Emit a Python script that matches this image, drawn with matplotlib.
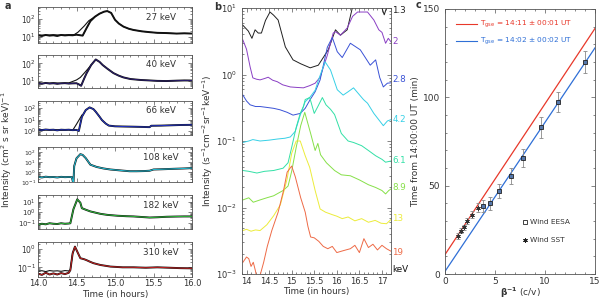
import numpy as np
import matplotlib
matplotlib.use("Agg")
import matplotlib.pyplot as plt
from matplotlib.ticker import MultipleLocator, LogLocator, NullFormatter, FixedLocator

plt.rcParams['font.family'] = ['DejaVu Sans']
plt.rcParams['mathtext.fontset'] = 'dejavusans'

# ---------------- Panel a data ----------------
a_energies = ['27 keV', '40 keV', '66 keV', '108 keV', '182 keV', '310 keV']
a_colors = ['#111111', '#2a1d6e', '#2233c8', '#22c0d8', '#2eb83a', '#c42020']
a_ylims = [(10**0.66, 10**2.66), (10**0.59, 10**2.47), (10**-0.35, 10**2.67),
           (10**-1.05, 10**2.52), (10**-1.56, 10**1.62), (10**-1.52, 10**0.42)]
a_yticks = [[1e1, 1e2], [1e1, 1e2], [1e0, 1e1, 1e2], [1e-1, 1e0, 1e1, 1e2],
            [1e-1, 1e0, 1e1], [1e-1, 1e0]]

t27 = [14.0, 14.05, 14.1, 14.15, 14.2, 14.25, 14.3, 14.35, 14.4, 14.45, 14.5, 14.55, 14.58, 14.63, 14.68, 14.74, 14.8, 14.86, 14.9, 14.95, 15.0, 15.05, 15.11, 15.18, 15.24, 15.35, 15.45, 15.55, 15.67, 15.8, 15.9, 16.0]
v27 = [12, 11, 12.5, 11.5, 12, 11, 12.5, 11.8, 12.3, 12, 13, 12, 11.5, 30, 75, 135, 200, 260, 280, 220, 90, 55, 37, 28, 24, 20, 18, 16.5, 16, 15, 15.5, 15]
t27b = [14.0, 14.1, 14.2, 14.3, 14.4, 14.47, 14.52, 14.6, 14.66, 14.74]
v27b = [12.5, 12, 12.8, 12.2, 12.6, 13, 18, 40, 80, 135]

t40 = [14.0, 14.05, 14.1, 14.15, 14.2, 14.25, 14.3, 14.35, 14.4, 14.45, 14.5, 14.53, 14.56, 14.6, 14.63, 14.69, 14.75, 14.8, 14.84, 14.9, 14.98, 15.05, 15.11, 15.2, 15.33, 15.45, 15.55, 15.67, 15.8, 15.9, 16.0]
v40 = [7.5, 7.0, 7.8, 7.2, 7.5, 7.0, 7.4, 7.6, 7.2, 7.4, 7.5, 6.5, 5.4, 14, 27, 80, 165, 120, 80, 50, 28, 20, 16, 13, 11.5, 10.8, 10.2, 10, 10.5, 10.8, 10.7]
t40b = [14.0, 14.1, 14.2, 14.3, 14.4, 14.5, 14.55, 14.62, 14.69]
v40b = [7.8, 7.4, 7.9, 7.5, 7.8, 11.5, 16, 35, 80]

t66 = [14.0, 14.05, 14.1, 14.15, 14.2, 14.25, 14.3, 14.35, 14.4, 14.45, 14.5, 14.53, 14.57, 14.62, 14.67, 14.72, 14.75, 14.8, 14.83, 14.88, 14.92, 15.0, 15.1, 15.24, 15.35, 15.45, 15.47, 15.6, 15.73, 15.85, 16.0]
v66 = [1.3, 1.2, 1.35, 1.25, 1.3, 1.15, 1.3, 1.25, 1.3, 1.2, 1.25, 1.0, 18, 70, 120, 85, 50, 18, 9.3, 4.5, 3.0, 2.6, 2.5, 2.4, 2.3, 2.2, 2.9, 3.0, 3.2, 3.4, 3.5]
t66b = [14.0, 14.1, 14.2, 14.3, 14.4, 14.45, 14.5, 14.57]
v66b = [1.3, 1.25, 1.3, 1.2, 1.3, 1.15, 4.0, 25]

t108 = [14.0, 14.05, 14.1, 14.15, 14.2, 14.25, 14.3, 14.35, 14.4, 14.44, 14.46, 14.47, 14.5, 14.55, 14.58, 14.62, 14.68, 14.76, 14.85, 14.94, 15.05, 15.19, 15.28, 15.38, 15.45, 15.5, 15.6, 15.75, 15.9, 16.0]
v108 = [0.32, 0.28, 0.33, 0.3, 0.31, 0.28, 0.32, 0.3, 0.31, 0.3, 0.06, 4.0, 25, 66, 55, 26, 5.6, 3.3, 2.3, 1.8, 1.5, 1.2, 1.2, 1.25, 1.35, 1.8, 1.9, 2.1, 2.3, 2.5]

t182 = [14.0, 14.05, 14.1, 14.15, 14.2, 14.25, 14.3, 14.35, 14.4, 14.42, 14.46, 14.51, 14.55, 14.57, 14.62, 14.68, 14.75, 14.81, 14.9, 15.03, 15.15, 15.24, 15.35, 15.45, 15.55, 15.67, 15.8, 15.9, 16.0]
v182 = [0.07, 0.09, 0.08, 0.1, 0.09, 0.085, 0.1, 0.09, 0.095, 0.1, 2.0, 16.5, 8.0, 2.5, 1.8, 1.25, 0.95, 0.75, 0.6, 0.5, 0.45, 0.43, 0.38, 0.34, 0.36, 0.4, 0.42, 0.43, 0.43]

t310 = [14.0, 14.05, 14.1, 14.15, 14.2, 14.25, 14.3, 14.35, 14.4, 14.42, 14.45, 14.48, 14.52, 14.55, 14.6, 14.63, 14.68, 14.72, 14.81, 14.94, 15.1, 15.24, 15.4, 15.55, 15.7, 15.85, 16.0]
v310 = [0.045, 0.038, 0.05, 0.04, 0.046, 0.04, 0.048, 0.042, 0.05, 0.07, 0.6, 1.4, 0.6, 0.32, 0.28, 0.25, 0.2, 0.17, 0.135, 0.11, 0.1, 0.1, 0.095, 0.1, 0.095, 0.09, 0.088]
t310k = [14.0, 14.05, 14.1, 14.15, 14.2, 14.25, 14.3, 14.35, 14.4, 14.42, 14.45, 14.48]
v310k = [0.06, 0.065, 0.058, 0.066, 0.062, 0.064, 0.06, 0.066, 0.063, 0.075, 0.6, 1.3]

a_series = [(t27, v27), (t40, v40), (t66, v66), (t108, v108), (t182, v182), (t310, v310)]
a_dash = [(t27b, v27b), (t40b, v40b), (t66b, v66b), None, None, (t310k, v310k)]

# ---------------- Panel b data ----------------
b_labels = ['1.3', '2', '2.8', '4.2', '6.1', '8.9', '13', '19']
b_colors = ['#202020', '#8a3fc4', '#3a52d6', '#36d0e6', '#32e0a6', '#86e048', '#ecec3a', '#ee6a46']
b_label_vals = [9.3, 3.1, 0.83, 0.21, 0.051, 0.020, 0.0069, 0.0021]

tb0 = [13.92, 14.04, 14.12, 14.19, 14.26, 14.33, 14.42, 14.52, 14.6, 14.7, 14.86, 15.03, 15.2, 15.41, 15.59, 15.7, 15.81, 15.97, 16.08, 16.23, 16.35, 16.6, 16.9, 17.0, 17.05, 17.12, 17.2]
vb0 = [5.5, 4.5, 3.5, 4.7, 4.2, 4.2, 6.5, 8.7, 7.8, 6.6, 2.6, 1.66, 1.45, 1.26, 1.38, 1.8, 2.35, 4.7, 3.9, 4.7, 10.5, 14, 13, 10, 7.9, 11, 14]
tb1 = [13.92, 14.0, 14.08, 14.14, 14.22, 14.3, 14.4, 14.48, 14.58, 14.68, 14.8, 14.97, 15.1, 15.26, 15.4, 15.52, 15.63, 15.79, 15.92, 15.97, 16.08, 16.23, 16.35, 16.46, 16.68, 16.82, 16.93, 17.0, 17.08, 17.14, 17.2]
vb1 = [3.3, 2.4, 1.3, 0.89, 0.85, 0.83, 0.87, 0.91, 0.82, 0.78, 0.7, 0.65, 0.64, 0.63, 0.68, 0.74, 0.91, 1.95, 4.2, 4.4, 3.9, 5.0, 7.5, 8.7, 8.7, 6.6, 4.7, 4.3, 2.95, 3.5, 3.1]
tb2 = [13.92, 14.0, 14.08, 14.2, 14.3, 14.45, 14.6, 14.74, 14.9, 15.03, 15.19, 15.3, 15.41, 15.52, 15.63, 15.79, 15.9, 16.01, 16.12, 16.3, 16.52, 16.74, 16.86, 16.95, 17.03, 17.12, 17.2]
vb2 = [0.49, 0.4, 0.35, 0.33, 0.33, 0.32, 0.31, 0.295, 0.27, 0.245, 0.26, 0.31, 0.42, 0.55, 0.83, 2.57, 3.6, 2.2, 1.8, 2.95, 2.35, 1.38, 1.66, 0.9, 0.65, 0.74, 0.75]
tb3 = [13.92, 14.05, 14.14, 14.3, 14.5, 14.68, 14.85, 14.97, 15.08, 15.19, 15.3, 15.41, 15.52, 15.6, 15.74, 15.86, 16.01, 16.14, 16.25, 16.37, 16.59, 16.68, 16.82, 16.95, 17.03, 17.12, 17.2]
vb3 = [0.095, 0.1, 0.105, 0.1, 0.103, 0.107, 0.11, 0.115, 0.14, 0.245, 0.39, 0.46, 0.58, 0.85, 1.55, 1.17, 0.59, 0.49, 0.55, 0.63, 0.42, 0.37, 0.26, 0.2, 0.17, 0.2, 0.21]
tb4 = [13.92, 14.05, 14.23, 14.4, 14.6, 14.81, 14.92, 15.0, 15.1, 15.19, 15.26, 15.3, 15.4, 15.5, 15.58, 15.68, 15.76, 15.86, 15.95, 16.1, 16.25, 16.37, 16.55, 16.7, 16.86, 17.0, 17.08, 17.2]
vb4 = [0.036, 0.035, 0.033, 0.035, 0.036, 0.039, 0.047, 0.08, 0.16, 0.26, 0.33, 0.42, 0.45, 0.26, 0.33, 0.45, 0.35, 0.3, 0.25, 0.13, 0.1, 0.095, 0.085, 0.072, 0.06, 0.053, 0.048, 0.05]
tb5 = [13.92, 14.05, 14.15, 14.3, 14.45, 14.6, 14.81, 14.92, 15.0, 15.1, 15.2, 15.29, 15.42, 15.52, 15.58, 15.64, 15.77, 15.95, 16.1, 16.3, 16.5, 16.7, 16.86, 17.0, 17.08, 17.15, 17.2]
vb5 = [0.013, 0.014, 0.012, 0.013, 0.014, 0.015, 0.018, 0.021, 0.035, 0.08, 0.17, 0.27, 0.13, 0.072, 0.092, 0.062, 0.047, 0.036, 0.031, 0.03, 0.026, 0.022, 0.02, 0.018, 0.016, 0.018, 0.019]
tb6 = [13.92, 14.0, 14.1, 14.2, 14.3, 14.45, 14.6, 14.75, 14.9, 15.0, 15.1, 15.19, 15.3, 15.4, 15.52, 15.63, 15.75, 15.9, 16.0, 16.12, 16.25, 16.4, 16.55, 16.7, 16.85, 16.98, 17.1, 17.2]
vb6 = [0.0045, 0.0047, 0.0044, 0.0046, 0.0045, 0.0055, 0.0075, 0.011, 0.027, 0.065, 0.1, 0.1, 0.06, 0.04, 0.018, 0.0095, 0.0085, 0.0078, 0.0074, 0.0068, 0.0072, 0.0063, 0.0068, 0.006, 0.0064, 0.0058, 0.0057, 0.0066]
tb7 = [13.92, 14.0, 14.05, 14.1, 14.15, 14.2, 14.25, 14.3, 14.38, 14.46, 14.56, 14.7, 14.82, 14.9, 15.0, 15.08, 15.2, 15.3, 15.36, 15.42, 15.5, 15.6, 15.7, 15.8, 15.9, 16.0, 16.1, 16.2, 16.3, 16.4, 16.5, 16.6, 16.7, 16.8, 16.9, 17.0, 17.1, 17.2]
vb7 = [0.0015, 0.0018, 0.0017, 0.0013, 0.0015, 0.0011, 0.0007, 0.00095, 0.0015, 0.0026, 0.0045, 0.0085, 0.018, 0.034, 0.042, 0.029, 0.014, 0.0085, 0.0052, 0.0036, 0.0035, 0.0031, 0.0026, 0.0024, 0.0026, 0.0021, 0.0022, 0.0023, 0.0024, 0.0027, 0.0021, 0.0034, 0.0025, 0.0028, 0.0023, 0.0027, 0.0024, 0.0022]
b_series = [(tb0, vb0), (tb1, vb1), (tb2, vb2), (tb3, vb3), (tb4, vb4), (tb5, vb5), (tb6, vb6), (tb7, vb7)]

# ---------------- Panel c data ----------------
c_fit_x = [0, 15]
c_fit_red = [11.0, 139.0]
c_fit_blue = [1.5, 128.0]
eesa_x = [3.8, 4.5, 5.4, 6.6, 7.8, 9.6, 11.3, 14.0]
eesa_t = [38.5, 40.0, 47.0, 55.5, 65.5, 83.0, 97.3, 120.0]
eesa_err = [3.5, 3.5, 4.0, 4.5, 5.0, 6.0, 5.5, 6.0]
sst_x = [1.3, 1.6, 1.9, 2.2, 2.7, 3.3]
sst_t = [21.5, 24.5, 26.5, 30.0, 33.5, 37.5]
sst_err = [1.5, 1.5, 1.5, 1.5, 2.0, 2.5]
legend_red = 'T$_{\\rm gse}$ = 14:11 \u00b1 00:01 UT'
legend_blue = 'T$_{\\rm gse}$ = 14:02 \u00b1 00:02 UT'

# ---------------- Figure ----------------
W, H = 600, 300
fig = plt.figure(figsize=(6, 3), dpi=100)

def px_axes(x0, y0, x1, y1):
    return fig.add_axes([x0 / W, 1 - y1 / H, (x1 - x0) / W, (y1 - y0) / H])

TXT = '#333333'
FS = 6

def style_ax(ax):
    ax.tick_params(which='both', direction='in', top=True, right=True,
                   labelsize=FS, colors='#555555', labelcolor=TXT, width=0.5)
    ax.tick_params(which='major', length=3)
    ax.tick_params(which='minor', length=1.5)
    for s in ax.spines.values():
        s.set_linewidth(0.6)
        s.set_color('#555555')

a_boxes = [(7.3, 42.7), (55, 88.3), (100.7, 135), (147.3, 182.3), (195, 229.3), (241.7, 276.7)]
a_ytick_fs = [5.5, 5.5, 4.8, 4.3, 5.0, 5.5]
for i, (y0, y1) in enumerate(a_boxes):
    ax = px_axes(38, y0, 192, y1)
    t, v = a_series[i]
    if a_dash[i] is not None:
        td, vd = a_dash[i]
        ax.plot(td, vd, color='#111111', lw=0.8)
    ax.plot(t, v, color='#111111', lw=1.4)
    ax.plot(t, v, color=a_colors[i], lw=0.7)
    ax.set_yscale('log')
    ax.set_xlim(14.0, 16.0)
    ax.set_ylim(*a_ylims[i])
    ax.yaxis.set_major_locator(FixedLocator(a_yticks[i]))
    ax.yaxis.set_minor_locator(LogLocator(base=10, subs=np.arange(2, 10), numticks=20))
    ax.yaxis.set_minor_formatter(NullFormatter())
    ax.xaxis.set_major_locator(MultipleLocator(0.5))
    ax.xaxis.set_minor_locator(MultipleLocator(0.1))
    style_ax(ax)
    ax.tick_params(axis='y', labelsize=a_ytick_fs[i], pad=1.5)
    if i < 5:
        ax.tick_params(labelbottom=False)
    else:
        ax.set_xticks([14.0, 14.5, 15.0, 15.5, 16.0])
        ax.set_xticklabels(['14.0', '14.5', '15.0', '15.5', '16.0'])
        ax.tick_params(axis='x', pad=2)
        ax.set_xlabel('Time (in hours)', fontsize=6.3, color=TXT, labelpad=1)
    ax.text(0.80, 0.70, a_energies[i], transform=ax.transAxes, fontsize=6.3,
            color=TXT, ha='center', va='center')

fig.text(7 / W, 1 - 150 / H, 'Intensity (cm$^2$ s sr keV)$^{-1}$', rotation=90,
         fontsize=6.5, color=TXT, ha='center', va='center')
fig.text(8 / W, 1 - 6 / H, 'a', fontsize=7, fontweight='bold', color=TXT, ha='center', va='center')

# Panel b
axb = px_axes(242, 8, 391, 274)
for (t, v), c in zip(b_series, b_colors):
    axb.plot(t, v, color=c, lw=0.7)
axb.set_yscale('log')
axb.set_xlim(13.9, 17.2)
axb.set_ylim(1e-3, 1e1)
axb.yaxis.set_major_locator(LogLocator(base=10, numticks=10))
axb.yaxis.set_minor_locator(LogLocator(base=10, subs=np.arange(2, 10), numticks=20))
axb.yaxis.set_minor_formatter(NullFormatter())
axb.xaxis.set_major_locator(MultipleLocator(0.5))
axb.xaxis.set_minor_locator(MultipleLocator(0.1))
style_ax(axb)
axb.set_xticks([14, 14.5, 15, 15.5, 16, 16.5, 17])
axb.set_xticklabels(['14', '14.5', '15', '15.5', '16', '16.5', '17'])
axb.tick_params(axis='x', pad=2)
axb.set_xlabel('Time (in hours)', fontsize=6.3, color=TXT, labelpad=1)
axb.set_ylabel('Intensity (s$^{-1}$cm$^{-2}$sr$^{-1}$keV$^{-1}$)', fontsize=6.5, color=TXT, labelpad=1)
for lab, val, c in zip(b_labels, b_label_vals, b_colors):
    axb.annotate(lab, xy=(1.0, val), xycoords=('axes fraction', 'data'),
                 xytext=(1, 0), textcoords='offset points', fontsize=6.3,
                 color=c, ha='left', va='center', annotation_clip=False)
axb.annotate('keV', xy=(1.0, 1.15e-3), xycoords=('axes fraction', 'data'),
             xytext=(1, 0), textcoords='offset points', fontsize=6.3,
             color='#111111', ha='left', va='center', annotation_clip=False)
fig.text(218 / W, 1 - 7 / H, 'b', fontsize=7, fontweight='bold', color=TXT, ha='center', va='center')

# Panel c
axc = px_axes(445, 9, 595, 274)
axc.plot(c_fit_x, c_fit_red, color='#e8382a', lw=0.9)
axc.plot(c_fit_x, c_fit_blue, color='#2f6fd6', lw=0.9)
axc.errorbar(eesa_x, eesa_t, yerr=eesa_err, fmt='none', ecolor='#888888',
             elinewidth=0.6, capsize=1.5, capthick=0.6)
axc.errorbar(sst_x, sst_t, yerr=sst_err, fmt='none', ecolor='#888888',
             elinewidth=0.6, capsize=1.2, capthick=0.6)
axc.plot(eesa_x, eesa_t, ls='none', marker='s', ms=3.2, mfc='#5577aa',
         mec='#222222', mew=0.6)
axc.plot(sst_x, sst_t, ls='none', marker=(6, 2, 0), ms=3.2, color='#333333', mew=0.6)
axc.set_xlim(0, 15)
axc.set_ylim(0, 150)
axc.xaxis.set_major_locator(MultipleLocator(5))
axc.xaxis.set_minor_locator(MultipleLocator(1))
axc.yaxis.set_major_locator(MultipleLocator(50))
axc.yaxis.set_minor_locator(MultipleLocator(10))
style_ax(axc)
axc.tick_params(labelsize=6.5)
axc.tick_params(axis='x', pad=2)
axc.set_xlabel(r'$\mathbf{\beta}^{\mathbf{-1}}$ (c/v)', fontsize=6.5, color=TXT, labelpad=0)
axc.set_ylabel('Time from 14:00:00 UT (min)', fontsize=6.5, color=TXT, labelpad=2)
axc.plot([0.07, 0.21], [0.943, 0.943], color='#e8382a', lw=0.8, transform=axc.transAxes)
axc.text(0.235, 0.943, legend_red, color='#e8382a', fontsize=5.3, transform=axc.transAxes, va='center')
axc.plot([0.07, 0.21], [0.879, 0.879], color='#2f6fd6', lw=0.8, transform=axc.transAxes)
axc.text(0.235, 0.879, legend_blue, color='#2f6fd6', fontsize=5.3, transform=axc.transAxes, va='center')
axc.plot([0.535], [0.196], ls='none', marker='s', ms=3, mfc='white', mec='#222222', mew=0.6,
         transform=axc.transAxes)
axc.text(0.565, 0.196, 'Wind EESA', fontsize=5.3, color=TXT, transform=axc.transAxes, va='center')
axc.plot([0.535], [0.128], ls='none', marker=(6, 2, 0), ms=3.2, color='#222222', mew=0.7,
         transform=axc.transAxes)
axc.text(0.565, 0.128, 'Wind SST', fontsize=5.3, color=TXT, transform=axc.transAxes, va='center')
fig.text(418 / W, 1 - 5 / H, 'c', fontsize=7, fontweight='bold', color=TXT, ha='center', va='center')

fig.savefig('out.png', dpi=100)
